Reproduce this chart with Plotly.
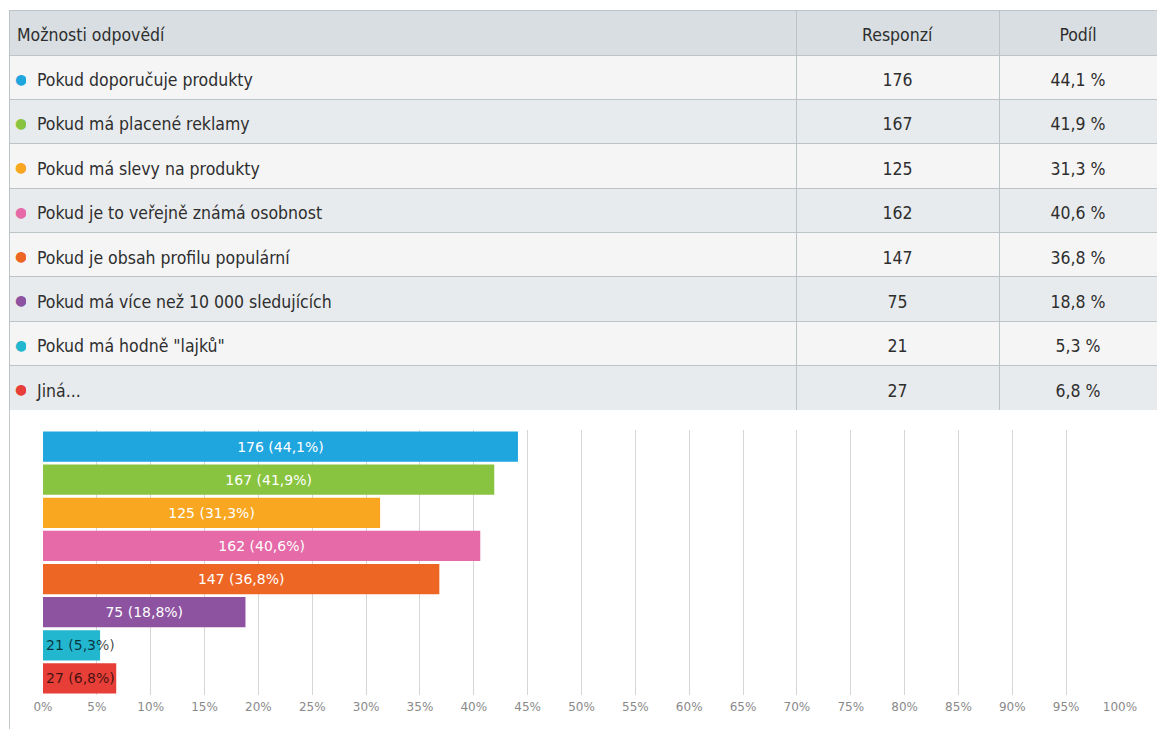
import plotly.graph_objects as go

# Survey answers: option, number of responses, share of respondents (%)
options = [
    "Pokud doporučuje produkty",
    "Pokud má placené reklamy",
    "Pokud má slevy na produkty",
    "Pokud je to veřejně známá osobnost",
    "Pokud je obsah profilu populární",
    "Pokud má více než 10 000 sledujících",
    "Pokud má hodně \"lajků\"",
    "Jiná...",
]
responses = [176, 167, 125, 162, 147, 75, 21, 27]
shares = [44.1, 41.9, 31.3, 40.6, 36.8, 18.8, 5.3, 6.8]
colors = ["#1fa6df", "#89c440", "#f9a620", "#e56aa7", "#ee6624", "#8d53a1", "#22b7cf", "#e73f38"]

header_labels = ["Možnosti odpovědí", "Responzí", "Podíl"]
x_ticks = list(range(0, 101, 5))

W, H = 1157, 729
TABLE_FONT = "DejaVu Sans Condensed, Liberation Sans Narrow, sans-serif"
CHART_FONT = "DejaVu Sans, Verdana, sans-serif"
TEXT_DROP = 7     # px: plotly tables top-align text, so the text layers sit lower
BULLET_DROP = 10

TABLE_TOP, TABLE_BOTTOM = 10, 410
TABLE_LEFT = 9
COL_WIDTHS = [787, 203, 158]
BULLET_COL = 20
HEADER_H = 45
ROW_H = (TABLE_BOTTOM - TABLE_TOP - HEADER_H) / len(options)


def cz(v):
    return f"{v:.1f}".replace(".", ",")


def y_dom(drop):
    return [1 - (TABLE_BOTTOM + drop) / H, 1 - (TABLE_TOP + drop) / H]


N = len(options)
option_cells = [f"<span>{o}</span>" for o in options]
count_cells = [f"<span>{r}</span>" for r in responses]
share_cells = [f"<span>{cz(s)}\u00a0%</span>" for s in shares]
header_cells = [f"<span>{h}</span>" for h in header_labels]

row_fill = ["#f5f5f6" if i % 2 == 0 else "#e8ebed" for i in range(N)]
blank = [""] * N
clear = "rgba(0,0,0,0)"
no_line = dict(color=clear, width=0)
text_font = dict(family=TABLE_FONT, size=17.5, color="#2e2e2e")

fig = go.Figure()

# table body: fills and rules
fig.add_trace(go.Table(
    domain=dict(x=[TABLE_LEFT / W, 1], y=y_dom(0)),
    columnwidth=COL_WIDTHS,
    header=dict(values=["", "", ""], fill_color="#d8dee1",
                line=dict(color="#bcc4c8", width=1), height=HEADER_H),
    cells=dict(values=[blank, blank, blank], fill_color=[row_fill] * 3,
               line=dict(color="#bcc4c8", width=1), height=ROW_H),
))

# header labels
fig.add_trace(go.Table(
    domain=dict(x=[TABLE_LEFT / W, 1], y=y_dom(TEXT_DROP)),
    columnwidth=COL_WIDTHS,
    header=dict(values=header_cells, fill_color=clear, line=no_line,
                align=["left", "center", "center"], font=text_font, height=HEADER_H),
    cells=dict(values=[blank, blank, blank], fill_color=clear, line=no_line, height=ROW_H),
))

# answers, counts and shares (first narrow column leaves room for the bullet)
fig.add_trace(go.Table(
    domain=dict(x=[TABLE_LEFT / W, 1], y=y_dom(TEXT_DROP)),
    columnwidth=[BULLET_COL, COL_WIDTHS[0] - BULLET_COL] + COL_WIDTHS[1:],
    header=dict(values=["", "", "", ""], fill_color=clear, line=no_line, height=HEADER_H),
    cells=dict(
        values=[blank, option_cells, count_cells, share_cells],
        fill_color=clear, line=no_line,
        align=["left", "left", "center", "center"],
        font=text_font, height=ROW_H,
    ),
))

# coloured bullet in front of each answer
fig.add_trace(go.Table(
    domain=dict(x=[(TABLE_LEFT - 2) / W, (TABLE_LEFT - 2 + BULLET_COL) / W], y=y_dom(BULLET_DROP)),
    header=dict(values=[""], fill_color=clear, line=no_line, height=HEADER_H),
    cells=dict(
        values=[["●"] * N],
        fill_color=clear, line=no_line, align="left",
        font=dict(family=CHART_FONT, size=14, color=[colors]),
        height=ROW_H,
    ),
))

bar_text = [f"{r} ({cz(s)}%)" for r, s in zip(responses, shares)]
fits = [s > 15 for s in shares]

fig.add_trace(go.Bar(
    x=shares,
    y=options,
    orientation="h",
    marker=dict(color=colors, line=dict(width=0)),
    text=[t if f else "" for t, f in zip(bar_text, fits)],
    textposition="inside",
    insidetextanchor="middle",
    textfont=dict(family=CHART_FONT, size=14, color="#ffffff"),
    hoverinfo="skip",
    showlegend=False,
))

# Labels for short bars start at the bar base and run past its end
for o, t, f in zip(options, bar_text, fits):
    if not f:
        fig.add_annotation(
            x=0, y=o, xref="x", yref="y", text=t, showarrow=False,
            xanchor="left", xshift=1,
            font=dict(family=CHART_FONT, size=14, color="rgba(0,0,0,0.72)"),
        )

fig.update_layout(
    width=W, height=H,
    margin=dict(l=0, r=0, t=0, b=0),
    paper_bgcolor="#ffffff",
    plot_bgcolor="#ffffff",
    bargap=0.09,
    xaxis=dict(
        domain=[43 / W, 1120 / W],
        range=[0, 100],
        automargin=False,
        tickmode="array",
        tickvals=x_ticks,
        ticktext=[f"{v}%" for v in x_ticks],
        ticklabelstandoff=3,
        showgrid=True, gridcolor="#d6d6d6", gridwidth=1,
        zeroline=False, showline=False,
        tickfont=dict(family=CHART_FONT, size=12, color="#8a8a8a"),
        fixedrange=True,
    ),
    yaxis=dict(
        domain=[1 - 695 / H, 1 - 430 / H],
        autorange="reversed",
        automargin=False,
        showticklabels=False, showgrid=False, zeroline=False, showline=False,
        fixedrange=True,
    ),
    shapes=[
        dict(type="line", xref="paper", yref="paper",
             x0=(TABLE_LEFT + 0.5) / W, x1=(TABLE_LEFT + 0.5) / W,
             y0=0, y1=1 - TABLE_BOTTOM / H,
             line=dict(color="#c4c9cc", width=1)),
    ],
)

fig.write_html("out.html")
